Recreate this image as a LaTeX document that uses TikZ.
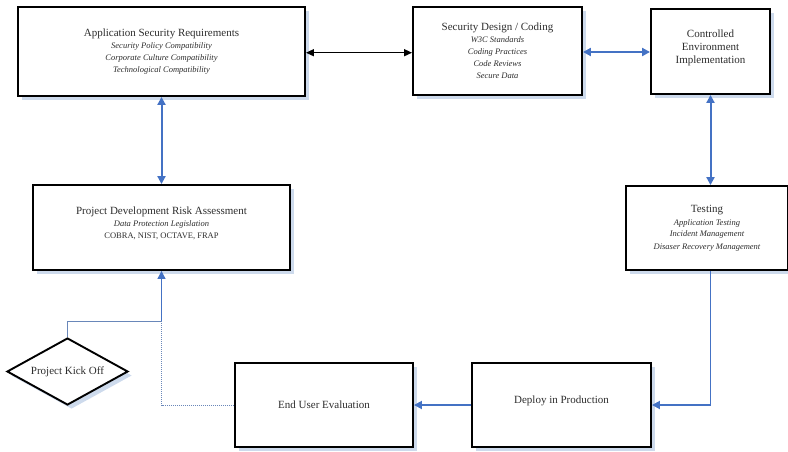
\documentclass[tikz,border=0pt]{standalone}
\usepackage{fontspec}
\setmainfont{Liberation Serif}
\usetikzlibrary{shapes.geometric,arrows.meta}
\definecolor{lineblue}{RGB}{68,114,196}
\definecolor{thinblue}{RGB}{105,135,185}
\definecolor{shadowc}{RGB}{205,218,236}
\definecolor{txt}{RGB}{45,45,45}
\newcommand{\subtx}{\fontsize{8.5}{12}\selectfont\itshape}
\tikzset{
  box/.style={draw=black, line width=1.9pt, fill=white, align=center, inner sep=0pt,
    text=txt, font=\fontsize{11}{13}\selectfont,
    preaction={draw=none, fill=shadowc, transform canvas={shift={(4pt,-4pt)}}}},
  barrow/.style={line width=2pt, draw=lineblue, {Triangle[length=8pt,width=8pt]}-{Triangle[length=8pt,width=8pt]}},
  karrow/.style={line width=1.5pt, draw=black, {Triangle[length=8pt,width=7pt]}-{Triangle[length=8pt,width=7pt]}},
  sarrow/.style={line width=1.8pt, draw=lineblue, -{Triangle[length=8pt,width=8pt]}},
  thinline/.style={line width=1pt, draw=thinblue},
}
\begin{document}
\begin{tikzpicture}[x=1pt,y=-1pt]
\useasboundingbox (0,0) rectangle (788,451);
\begin{scope}
\clip (0,0) rectangle (788,451);
\node[box, minimum width=287pt, minimum height=89pt] (asr) at (161.5,51.5)
  {Application Security Requirements\\[-1pt]
   {\subtx Security Policy Compatibility}\\[-1pt]
   {\subtx Corporate Culture Compatibility}\\[-1pt]
   {\subtx Technological Compatibility}};
\node[box, minimum width=169pt, minimum height=88pt] (sdc) at (497.5,51)
  {Security Design / Coding\\[-1pt]
   {\subtx W3C Standards}\\[-1pt]
   {\subtx Coding Practices}\\[-1pt]
   {\subtx Code Reviews}\\[-1pt]
   {\subtx Secure Data}};
\node[box, minimum width=119pt, minimum height=85pt] (cei) at (710.5,51.5)
  {Controlled\\Environment\\Implementation\\[-4pt]\mbox{}};
\node[box, minimum width=257pt, minimum height=85pt] (pdr) at (161.5,227.5)
  {Project Development Risk Assessment\\[-1pt]
   {\subtx Data Protection Legislation}\\[-1pt]
   {\subtx\upshape COBRA, NIST, OCTAVE, FRAP}\\[-4pt]\mbox{}};
\node[box, minimum width=162pt, minimum height=84pt] (tst) at (707,228)
  {Testing\\[0pt]
   {\subtx Application Testing}\\[-2pt]
   {\subtx Incident Management}\\[0pt]
   {\subtx Disaser Recovery Management}};
\node[box, minimum width=178pt, minimum height=84pt] (eue) at (324,405)
  {End User Evaluation};
\node[box, minimum width=179pt, minimum height=84pt] (dip) at (561.5,405)
  {Deploy in Production\\[-2pt]\mbox{}};
\node[box, diamond, aspect=1.8, minimum width=121pt, minimum height=67pt, inner sep=0pt] (pko) at (67.5,371.5)
  {Project Kick Off};
\end{scope}
\draw[karrow] (asr.east |- 0,52.7) -- (sdc.west |- 0,52.7);
\draw[barrow] (sdc.east |- 0,52) -- (cei.west |- 0,52);
\draw[barrow] (asr.south) -- (pdr.north);
\draw[barrow] (cei.south) -- (tst.north -| cei.south);
\draw[sarrow] (tst.south -| cei.south) |- (dip.east);
\draw[sarrow] (dip.west) -- (eue.east);
\coordinate (jn) at (161.5,321);
\draw[thinline, densely dotted] (eue.west) -| (jn);
\draw[thinline] (pko.north) |- (jn);
\draw[sarrow, line width=1.2pt] (jn) -- (pdr.south);
\end{tikzpicture}
\end{document}
